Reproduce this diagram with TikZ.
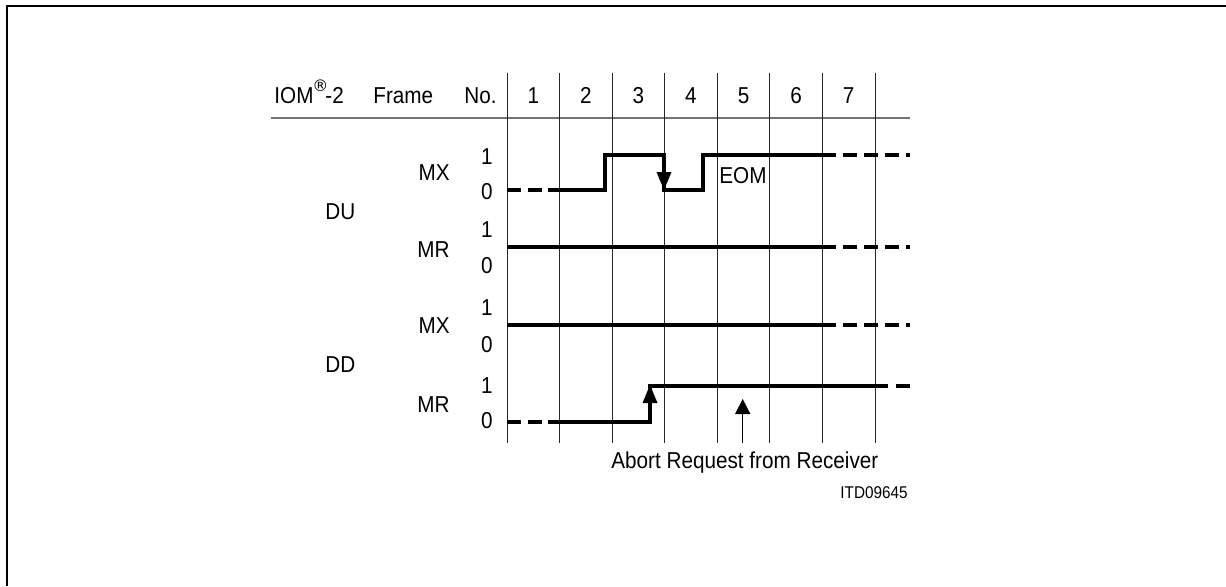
\documentclass[tikz,border=0pt]{standalone}
\usepackage{fontspec}
\setmainfont{Liberation Sans}[FakeStretch=0.9]
\newfontfamily\regfont{DejaVu Sans}
\begin{document}
\begin{tikzpicture}[x=0.5pt,y=-0.5pt,
  lbl/.style={inner sep=0pt, font=\fontsize{11.5pt}{13pt}\selectfont},
  small/.style={inner sep=0pt, font=\fontsize{8.5pt}{10pt}\selectfont},
  sig/.style={line width=2pt},
  sigdashL/.style={line width=2pt, dash pattern=on 7pt off 3.25pt},
  sigdashR/.style={line width=2pt, dash pattern=on 7pt off 3.5pt},
  gridline/.style={line width=0.5pt, black!85},
  headline/.style={line width=1pt, black!55},
  frameline/.style={line width=1pt}]
\useasboundingbox (0,0) rectangle (1226,586);
% outer frame (top and left edges)
\draw[frameline] (6.8,586) -- (6.8,5.8) -- (1226,5.8);

% header
\node[lbl,anchor=base west] (iom) at (274,103) {IOM\hspace{-0.5pt}\raisebox{6pt}{\regfont\fontsize{8pt}{9pt}\selectfont ®}\hspace{-1.5pt}-2};
\node[lbl,anchor=base west] (frame) at (373,103) {Frame};
\node[lbl,anchor=base west] (no) at (464,103) {No.};
\foreach \k in {1,...,7}{
  \node[lbl,anchor=base] (col\k) at ({507+52.57*(\k-0.5)},103) {\k};
}
\draw[headline] (271,118.3) -- (910,118.3);

% grid
\foreach \k in {0,...,7}{
  \draw[gridline] ({507+52.57*\k},72.5) -- ({507+52.57*\k},443);
}

% row labels
\node[lbl,anchor=base west] (du) at (325,219) {DU};
\node[lbl,anchor=base west] (dd) at (325,372) {DD};
\node[lbl,anchor=base east] (dumx) at (450,180) {MX};
\node[lbl,anchor=base east] (dumr) at (450,257) {MR};
\node[lbl,anchor=base east] (ddmx) at (450,333) {MX};
\node[lbl,anchor=base east] (ddmr) at (450,412) {MR};
\node[lbl,anchor=base east] (dumx1) at (493,164) {1};
\node[lbl,anchor=base east] (dumx0) at (493,199.5) {0};
\node[lbl,anchor=base east] (dumr1) at (493,237) {1};
\node[lbl,anchor=base east] (dumr0) at (493,273) {0};
\node[lbl,anchor=base east] (ddmx1) at (493,315) {1};
\node[lbl,anchor=base east] (ddmx0) at (493,352) {0};
\node[lbl,anchor=base east] (ddmr1) at (493,393) {1};
\node[lbl,anchor=base east] (ddmr0) at (493,428.5) {0};

% DU MX waveform
\draw[sigdashL] (507,190) -- (548,190);
\draw[sig] (548,190) -- (605,190) -- (605,155) -- (664,155) -- (664,190) -- (703,190) -- (703,155) -- (836,155);
\draw[sigdashR] (843,155) -- (910,155);
\fill (656.5,172) -- (671.5,172) -- (664,190) -- cycle;
\node[lbl,anchor=base west] (eom) at (719,183) {EOM};

% DU MR
\draw[sig] (507,247) -- (836,247);
\draw[sigdashR] (843,247) -- (910,247);

% DD MX
\draw[sig] (507,325) -- (836,325);
\draw[sigdashR] (843,325) -- (910,325);

% DD MR
\draw[sigdashL] (507,421.5) -- (548,421.5);
\draw[sig] (548,421.5) -- (650,421.5) -- (650,385.5) -- (888,385.5);
\draw[sigdashR] (896,385.5) -- (910,385.5);
\fill (642.5,403) -- (657.5,403) -- (650,385) -- cycle;

% abort request arrow
\coordinate (abortfoot) at (742.7,443);
\coordinate (aborttip) at (742.7,399);
\draw[line width=0.5pt] (abortfoot) -- (742.7,413);
\fill (735,414) -- (750.4,414) -- (aborttip) -- cycle;
\node[lbl,anchor=base west] (abort) at (611,468.3) {Abort Request from Receiver};
\node[small,anchor=base east] (itd) at (908,498) {ITD09645};
\end{tikzpicture}
\end{document}
